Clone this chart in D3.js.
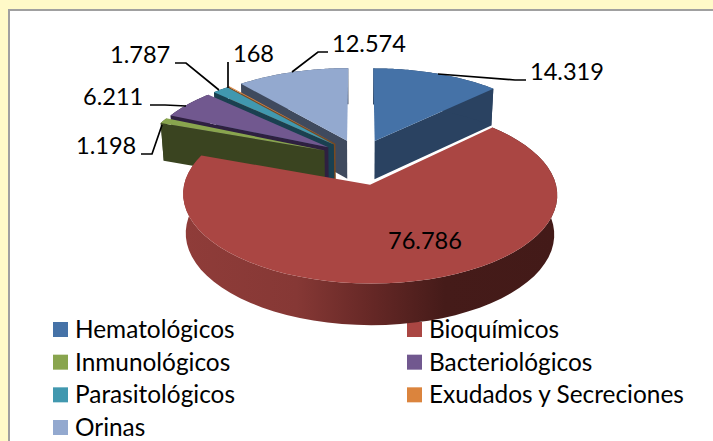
<!DOCTYPE html>
<html><head><meta charset="utf-8">
<script src="https://cdn.jsdelivr.net/npm/d3@7/dist/d3.min.js"></script>
<style>html,body{margin:0;padding:0;background:#FFFAC8}svg{display:block}text{font-family:Lato,"Open Sans",sans-serif;fill:#000}</style>
</head><body><svg id="c" width="713" height="441"></svg>
<script>
const categories=["Hematológicos","Bioquímicos","Inmunológicos","Bacteriológicos","Parasitológicos","Exudados y Secreciones","Orinas"];
const values=[14319,76786,1198,6211,1787,168,12574];
const valueLabels=["14.319","76.786","1.198","6.211","1.787","168","12.574"];
const topColors=["#4572A7","#AA4643","#89A54E","#71588F","#4198AF","#DB843D","#93A9CF"];
const wallColors=["#2A4261","#5a2422","#3A4420","#2E2040","#1A4050","#7a4a20","#3F4A5E"];
const paintOrder=[6,0,5,4,3,2,1];
const explosions=[.21,.325,.21,.21,.21,.21,.21];
const radii=[1,.975,1,1,1,1,1];
const nudges=[0,-3,0,0,0,0,0];
const labelPos=[[530,80],[388,249],[76,154],[83,105],[110,63],[233,62],[332,52]];
const leaders=[[[438,74],[515,80],[526,80]],null,[[162,125],[152,154],[141,154]],[[186,106],[165,105],[150,105]],[[219,90],[186,63],[175,63]],[[228,88],[228,62]],[[292,72],[318,52],[328,52]]];

const svg=d3.select("#c");
svg.append("rect").attr("x",8).attr("y",9).attr("width",705).attr("height",432).attr("fill","#fff");
svg.append("path").attr("d","M9,441V10H713").attr("fill","none").attr("stroke","#A0A0A0").attr("stroke-width",2);

const defs=svg.append("defs");
const g=defs.append("linearGradient").attr("id","rw").attr("gradientUnits","userSpaceOnUse").attr("x1",185).attr("x2",556).attr("y1",0).attr("y2",0);
[[0,"#8F3C39"],[.3,"#863835"],[.5,"#662826"],[.7,"#451B19"],[1,"#431A18"]].forEach(s=>g.append("stop").attr("offset",s[0]).attr("stop-color",s[1]));

// legend under the pie
const lx=d3.scaleOrdinal().domain([0,1]).range([53,407]);
const ly=d3.scalePoint().domain([0,1,2,3]).range([322,420]);
categories.forEach((c,i)=>{
  const col=i%2,row=Math.floor(i/2);
  svg.append("rect").attr("x",lx(col)).attr("y",ly(row)).attr("width",15).attr("height",15).attr("fill",topColors[i]);
  svg.append("text").attr("x",lx(col)+22).attr("y",ly(row)+16).attr("font-size",24.4).text(c);
});

// pie
const cx=360,cy=157,B=184,A=84,k=.11,H=38.5;
const pie=d3.pie().sort(null).startAngle(0).endAngle(2*Math.PI)(values);
function proj(X,Y,z){const s=1/(1+k*Y);const px=cx+B*X*s,py=cy-A*Y*s;
  return z?[cx+(px-cx)*.985,py+H*Math.sqrt(s)]:[px,py];}
function pt(i,th,r,z){const d=pie[i],m=(d.startAngle+d.endAngle)/2,e=explosions[i],q=r*radii[i];
  const p=proj(e*Math.sin(m)+q*Math.sin(th),e*Math.cos(m)+q*Math.cos(th),z);
  return [p[0]+nudges[i],p[1]];}
const line=d3.line();
paintOrder.forEach(i=>{
  const d=pie[i];
  const ths=d3.range(0,61).map(j=>d.startAngle+(d.endAngle-d.startAngle)*j/60);
  const edge=i===0?d.endAngle:d.startAngle;
  const wall=[pt(i,edge,0),pt(i,edge,1),pt(i,edge,1,true),pt(i,edge,0,true)];
  if(i!==1) svg.append("path").attr("d",line(wall)+"Z").attr("fill",wallColors[i]);
  const top=ths.map(t=>pt(i,t,1)),bot=ths.map(t=>pt(i,t,1,true));
  svg.append("path").attr("d",line(top.concat(bot.slice().reverse()))+"Z").attr("fill",i===1?"url(#rw)":wallColors[i]);
  svg.append("path").attr("d",line([pt(i,0,0)].concat(top))+"Z").attr("fill",topColors[i]);
});

// leaders and labels
const lead=d3.line();
leaders.forEach(l=>{if(l)svg.append("path").attr("d",lead(l)).attr("fill","none").attr("stroke","#000").attr("stroke-width",1.7);});
valueLabels.forEach((t,i)=>svg.append("text").attr("x",labelPos[i][0]).attr("y",labelPos[i][1]).attr("font-size",23.6).text(t));
</script></body></html>
